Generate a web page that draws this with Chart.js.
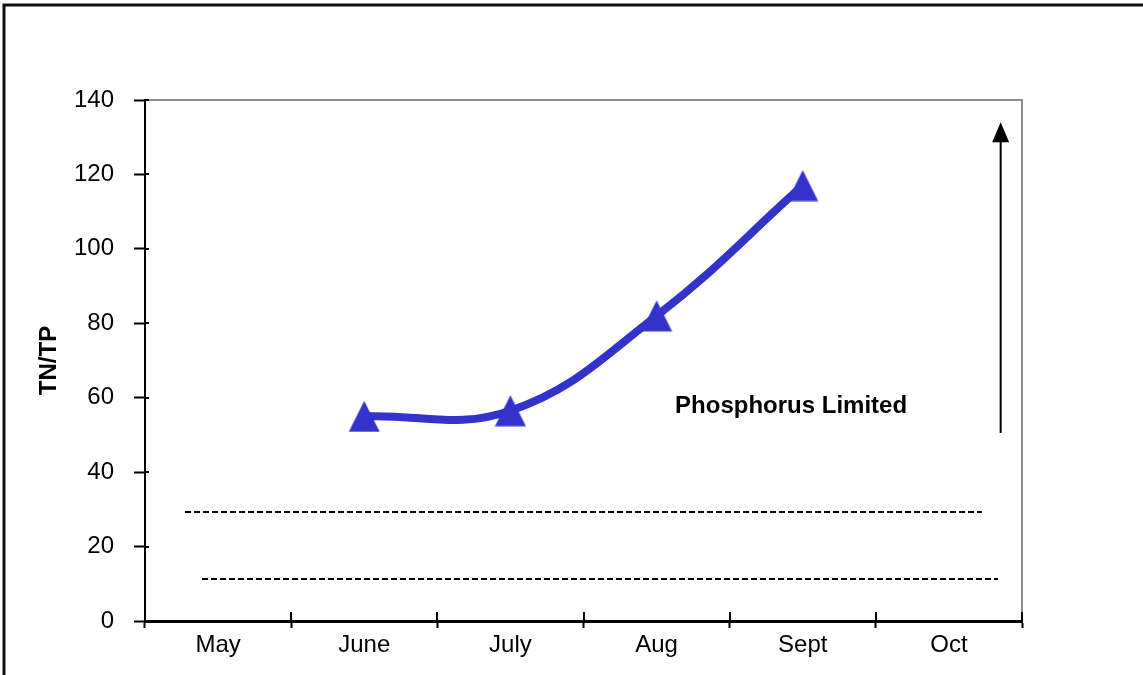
<!DOCTYPE html>
<html>
<head>
<meta charset="utf-8">
<script src="https://cdn.jsdelivr.net/npm/chart.js@4/dist/chart.umd.min.js"></script>
<style>
  html, body { margin: 0; padding: 0; background: #ffffff; }
  #c { display: block; }
</style>
</head>
<body>
<canvas id="c" width="1143" height="675"></canvas>
<script>
// ---- data ----
const months = ['May', 'June', 'July', 'Aug', 'Sept', 'Oct'];
const tnTpRatio = [null, 55, 56.5, 82, 117, null];
const yMin = 0, yMax = 140, yStep = 20;
const yAxisTitle = 'TN/TP';

// reference (dashed) lines: value and start/end in category units (0 = left edge, 6 = right edge)
const upperRefValue = 29.3;
const upperRefSpan = [0.274, 5.726];
const lowerRefValue = 11.3;
const lowerRefSpan = [0.39, 5.836];

// annotation arrow and text
const arrowPos = 5.854;
const arrowRange = [50.5, 134];
const noteText = 'Phosphorus Limited';
const notePos = [4.42, 57.8];

const FONT = '"Liberation Sans", Arial, sans-serif';
const BLUE = '#3333CC';

// triangle marker image (centred on the data point)
const marker = document.createElement('canvas');
marker.width = 32; marker.height = 32;
(function () {
  const m = marker.getContext('2d');
  m.fillStyle = BLUE;
  m.beginPath();
  m.moveTo(16, 0.5);
  m.lineTo(31.5, 31.5);
  m.lineTo(0.5, 31.5);
  m.closePath();
  m.fill();
})();

const framePlugin = {
  id: 'frame',
  beforeDraw(chart) {
    const ctx = chart.ctx;
    ctx.save();
    ctx.fillStyle = '#ffffff';
    ctx.fillRect(0, 0, chart.width, chart.height);
    ctx.strokeStyle = '#111111';
    ctx.lineWidth = 3;
    ctx.beginPath();
    ctx.moveTo(4, chart.height);
    ctx.lineTo(4, 5);
    ctx.lineTo(chart.width, 5);
    ctx.stroke();
    ctx.restore();
  },
  afterDraw(chart) {
    const ctx = chart.ctx;
    const a = chart.chartArea;
    const y = chart.scales.y, x2 = chart.scales.x2;
    ctx.save();
    // gray top/right border of plot area
    ctx.strokeStyle = '#8c8c8c';
    ctx.lineWidth = 2;
    ctx.beginPath();
    ctx.moveTo(a.left, a.top);
    ctx.lineTo(a.right, a.top);
    ctx.lineTo(a.right, a.bottom);
    ctx.stroke();
    // inner parts of crossing tick marks
    ctx.strokeStyle = '#000000';
    ctx.lineWidth = 2;
    ctx.beginPath();
    for (let v = yMin; v <= yMax; v += yStep) {
      const py = Math.round(y.getPixelForValue(v));
      ctx.moveTo(a.left, py);
      ctx.lineTo(a.left + 4, py);
    }
    for (let i = 0; i <= months.length; i++) {
      const px = Math.round(x2.getPixelForValue(i));
      ctx.moveTo(px, a.bottom);
      ctx.lineTo(px, a.bottom - 9);
    }
    ctx.stroke();
    // arrow
    const ax = x2.getPixelForValue(arrowPos);
    const ay0 = y.getPixelForValue(arrowRange[0]);
    const ay1 = y.getPixelForValue(arrowRange[1]);
    ctx.lineWidth = 2;
    ctx.beginPath();
    ctx.moveTo(ax, ay0);
    ctx.lineTo(ax, ay1 + 18);
    ctx.stroke();
    ctx.fillStyle = '#000000';
    ctx.beginPath();
    ctx.moveTo(ax, ay1);
    ctx.lineTo(ax - 8.5, ay1 + 20);
    ctx.lineTo(ax + 8.5, ay1 + 20);
    ctx.closePath();
    ctx.fill();
    // note text
    ctx.font = 'bold 24px ' + FONT;
    ctx.textAlign = 'center';
    ctx.textBaseline = 'middle';
    ctx.fillText(noteText, x2.getPixelForValue(notePos[0]), y.getPixelForValue(notePos[1]));
    ctx.restore();
  }
};

const dashedStyle = {
  borderColor: '#000000',
  borderWidth: 2,
  borderDash: [6, 3],
  pointRadius: 0,
  tension: 0,
  fill: false,
  xAxisID: 'x2'
};

new Chart(document.getElementById('c'), {
  type: 'line',
  data: {
    labels: months,
    datasets: [
      {
        data: tnTpRatio,
        borderColor: BLUE,
        backgroundColor: BLUE,
        borderWidth: 8,
        pointStyle: marker,
        pointRadius: 16,
        tension: 0.4,
        fill: false,
        xAxisID: 'x'
      },
      Object.assign({ data: [{ x: upperRefSpan[0], y: upperRefValue }, { x: upperRefSpan[1], y: upperRefValue }] }, dashedStyle),
      Object.assign({ data: [{ x: lowerRefSpan[0], y: lowerRefValue }, { x: lowerRefSpan[1], y: lowerRefValue }] }, dashedStyle)
    ]
  },
  options: {
    responsive: false,
    devicePixelRatio: 1,
    animation: false,
    layout: { padding: { left: 0, top: 100, right: 121, bottom: 0 } },
    plugins: { legend: { display: false }, tooltip: { enabled: false }, title: { display: false } },
    scales: {
      x: {
        type: 'category',
        offset: true,
        grid: { display: true, offset: true, drawOnChartArea: false, tickLength: 7, tickWidth: 2, tickColor: '#000000' },
        border: { display: true, color: '#000000', width: 3 },
        ticks: { color: '#000000', font: { family: FONT, size: 24 }, padding: 3, maxRotation: 0, autoSkip: false },
        afterFit(s) { s.height = 54; }
      },
      x2: {
        type: 'linear',
        display: false,
        min: 0,
        max: months.length
      },
      y: {
        min: yMin,
        max: yMax,
        ticks: { stepSize: yStep, color: '#000000', font: { family: FONT, size: 24 }, padding: 20 },
        grid: { display: true, drawOnChartArea: false, tickLength: 11, tickWidth: 2, tickColor: '#000000' },
        border: { display: true, color: '#000000', width: 2 },
        title: { display: true, text: yAxisTitle, color: '#000000', font: { family: FONT, size: 24, weight: 'bold' }, padding: { top: 35, bottom: 0 } },
        afterFit(s) { s.width = 145; }
      }
    }
  },
  plugins: [framePlugin]
});
</script>
</body>
</html>
